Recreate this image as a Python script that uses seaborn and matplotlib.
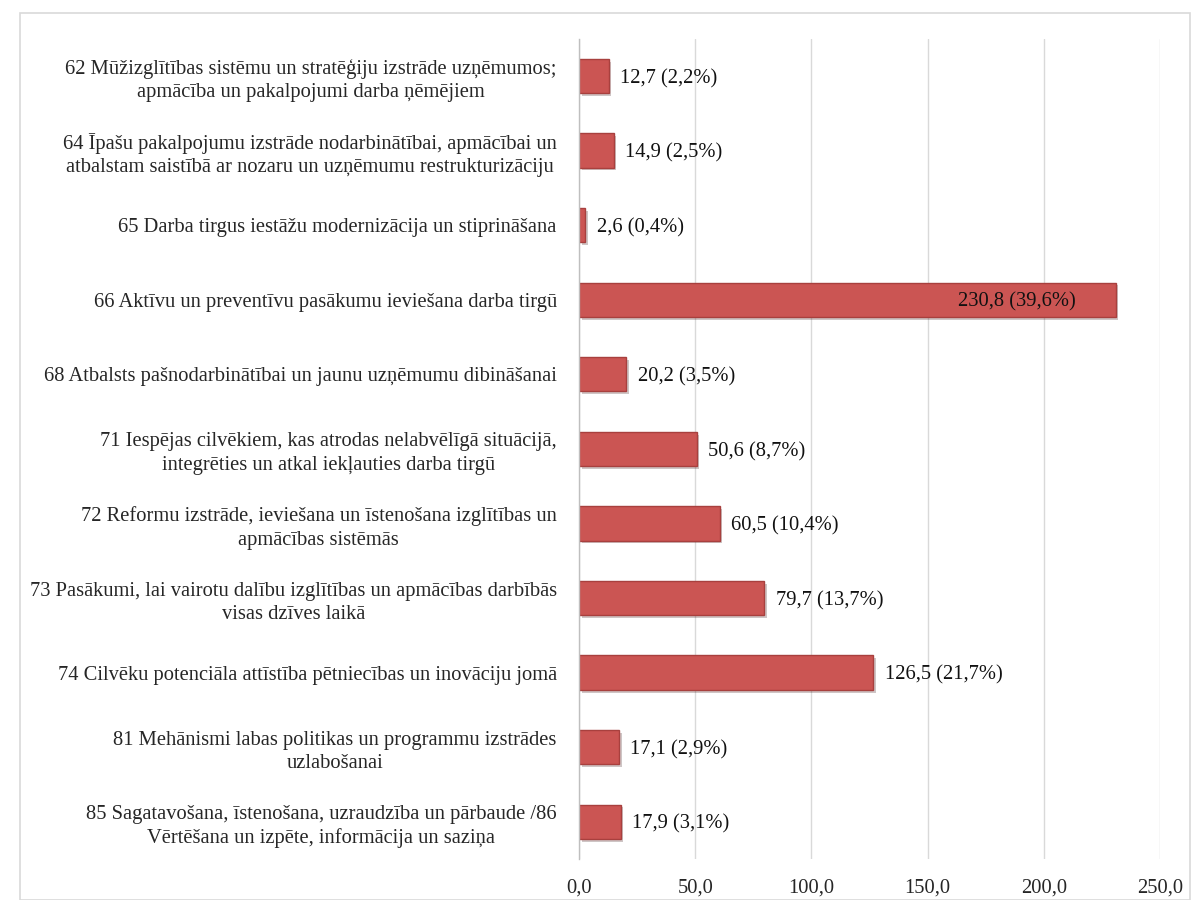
import seaborn as sns
import matplotlib.pyplot as plt
import matplotlib.patheffects as pe
import pandas as pd
from matplotlib.patches import Rectangle

categories = [
    "62 Mūžizglītības sistēmu un stratēģiju izstrāde uzņēmumos;\napmācība un pakalpojumi darba ņēmējiem",
    "64 Īpašu pakalpojumu izstrāde nodarbinātībai, apmācībai un\natbalstam saistībā ar nozaru un uzņēmumu restrukturizāciju",
    "65 Darba tirgus iestāžu modernizācija un stiprināšana",
    "66 Aktīvu un preventīvu pasākumu ieviešana darba tirgū",
    "68 Atbalsts pašnodarbinātībai un jaunu uzņēmumu dibināšanai",
    "71 Iespējas cilvēkiem, kas atrodas nelabvēlīgā situācijā,\nintegrēties un atkal iekļauties darba tirgū",
    "72 Reformu izstrāde, ieviešana un īstenošana izglītības un\napmācības sistēmās",
    "73 Pasākumi, lai vairotu dalību izglītības un apmācības darbībās\nvisas dzīves laikā",
    "74 Cilvēku potenciāla attīstība pētniecības un inovāciju jomā",
    "81 Mehānismi labas politikas un programmu izstrādes\nuzlabošanai",
    "85 Sagatavošana, īstenošana, uzraudzība un pārbaude /86\nVērtēšana un izpēte, informācija un saziņa",
]
values = [12.7, 14.9, 2.6, 230.8, 20.2, 50.6, 60.5, 79.7, 126.5, 17.1, 17.9]
percents = [2.2, 2.5, 0.4, 39.6, 3.5, 8.7, 10.4, 13.7, 21.7, 2.9, 3.1]
xticks = [0, 50, 100, 150, 200, 250]

df = pd.DataFrame({'cat': categories, 'val': values, 'pct': percents})

sns.set_style('white')
plt.rcParams['font.family'] = ['Liberation Serif', 'DejaVu Serif']
fs = 14.8

fig = plt.figure(figsize=(12.02, 9), dpi=100)
ax = fig.add_axes([0.4817, 0.0455, 0.4835, 0.9115])

sns.barplot(data=df, x='val', y='cat', orient='h', color='#CB5553',
            saturation=1, width=0.46, edgecolor='#A8403E', linewidth=1.0, ax=ax)
for p in ax.patches:
    p.set_path_effects([pe.SimplePatchShadow(offset=(2, -2), alpha=0.25), pe.Normal()])

# value labels
for i, (v, pc) in enumerate(zip(values, percents)):
    txt = f"{v:.1f} ({pc:.1f}%)".replace('.', ',')
    if v > 200:
        ax.text(v - 17, i, txt, ha='right', va='center_baseline', fontsize=fs, color='#111111')
    else:
        ax.text(v + 5, i, txt, ha='left', va='center_baseline', fontsize=fs, color='#111111')

ax.set_xlim(0, 250)
ax.set_xticks(xticks)
ax.set_xticklabels([f"{t:.1f}".replace('.', ',') for t in xticks], fontsize=fs)
ax.tick_params(axis='x', length=0, pad=14)
ax.tick_params(axis='y', length=0, pad=16, labelsize=fs)
for lbl in ax.get_yticklabels():
    lbl.set_multialignment('center')
    lbl.set_linespacing(1.3)
    lbl.set_verticalalignment('center_baseline')
ax.set_xlabel('')
ax.set_ylabel('')
ax.xaxis.grid(True, color='#D9D9D9', linewidth=1)
ax.set_axisbelow(True)
for s in ['top', 'right', 'bottom']:
    ax.spines[s].set_visible(False)
ax.spines['left'].set_color('#BFBFBF')
ax.spines['left'].set_linewidth(1)

# outer frame
fig.patches.append(Rectangle((20 / 1202, 0.0), 1170 / 1202, 1 - 13 / 900, transform=fig.transFigure,
                             fill=False, edgecolor='#D9D9D9', linewidth=1.2))

fig.savefig('out.png', dpi=100)
